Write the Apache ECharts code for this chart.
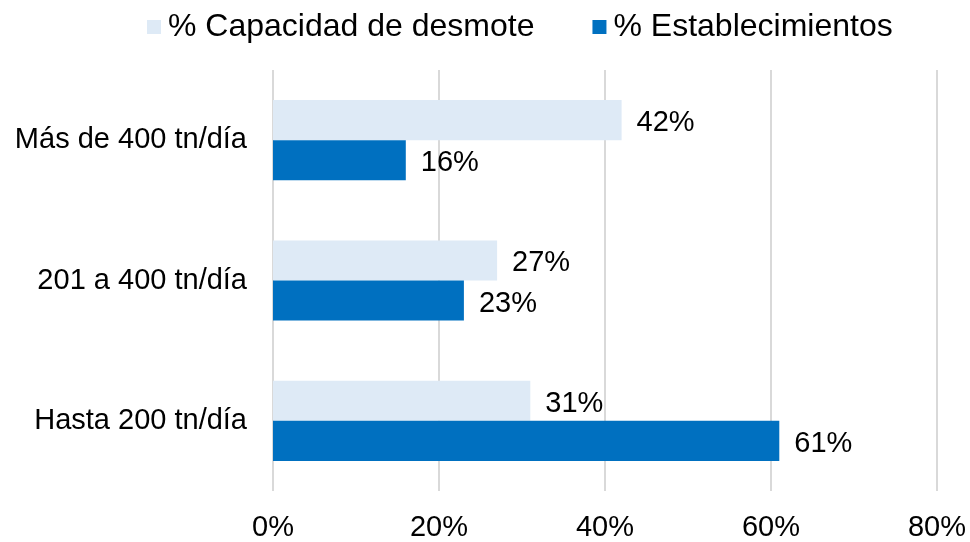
<!DOCTYPE html>
<html>
<head>
<meta charset="utf-8">
<script src="https://cdn.jsdelivr.net/npm/echarts@6/dist/echarts.min.js"></script>
<style>
  html, body { margin: 0; padding: 0; background: #fff; }
  #chart { width: 970px; height: 542px; }
</style>
</head>
<body>
<div id="chart"></div>
<script>
const categories = ['Más de 400 tn/día', '201 a 400 tn/día', 'Hasta 200 tn/día']
const capacidad = [42, 27, 31]
const establecimientos = [16, 23, 61]
const xTicks = [0, 20, 40, 60, 80]

const font = 'Liberation Sans, Arial, sans-serif'
const chart = echarts.init(document.getElementById('chart'))

const labelStyle = {
  show: true, position: 'right', distance: 15, offset: [0, 3],
  fontFamily: font, fontSize: 29, color: '#000',
  formatter: p => p.value + '%'
}

chart.setOption({
  backgroundColor: '#fff',
  animation: false,
  legend: {
    top: 6,
    left: 142,
    itemWidth: 14,
    itemHeight: 14,
    itemGap: 58,
    icon: 'rect',
    textStyle: { fontFamily: font, fontSize: 32, color: '#000', padding: [0, 0, 0, 2] },
    data: ['% Capacidad de desmote', '% Establecimientos']
  },
  grid: { left: 273, right: 33, top: 70, bottom: 51, containLabel: false },
  xAxis: {
    type: 'value',
    min: xTicks[0],
    max: xTicks[xTicks.length - 1],
    interval: 20,
    axisLine: { show: false },
    axisTick: { show: false },
    splitLine: { lineStyle: { color: '#d9d9d9', width: 2 } },
    axisLabel: {
      fontFamily: font, fontSize: 29, color: '#000', margin: 22,
      formatter: v => v + '%'
    }
  },
  yAxis: {
    type: 'category',
    inverse: true,
    data: categories,
    axisLine: { show: false },
    axisTick: { show: false },
    axisLabel: { fontFamily: font, fontSize: 29, color: '#000', margin: 26 }
  },
  series: [
    {
      name: '% Capacidad de desmote',
      type: 'bar',
      barGap: '0%',
      barCategoryGap: '42.9%',
      itemStyle: { color: '#deeaf6' },
      label: labelStyle,
      data: capacidad
    },
    {
      name: '% Establecimientos',
      type: 'bar',
      barGap: '0%',
      barCategoryGap: '42.9%',
      itemStyle: { color: '#0070c0' },
      label: labelStyle,
      data: establecimientos
    }
  ]
})
</script>
</body>
</html>
